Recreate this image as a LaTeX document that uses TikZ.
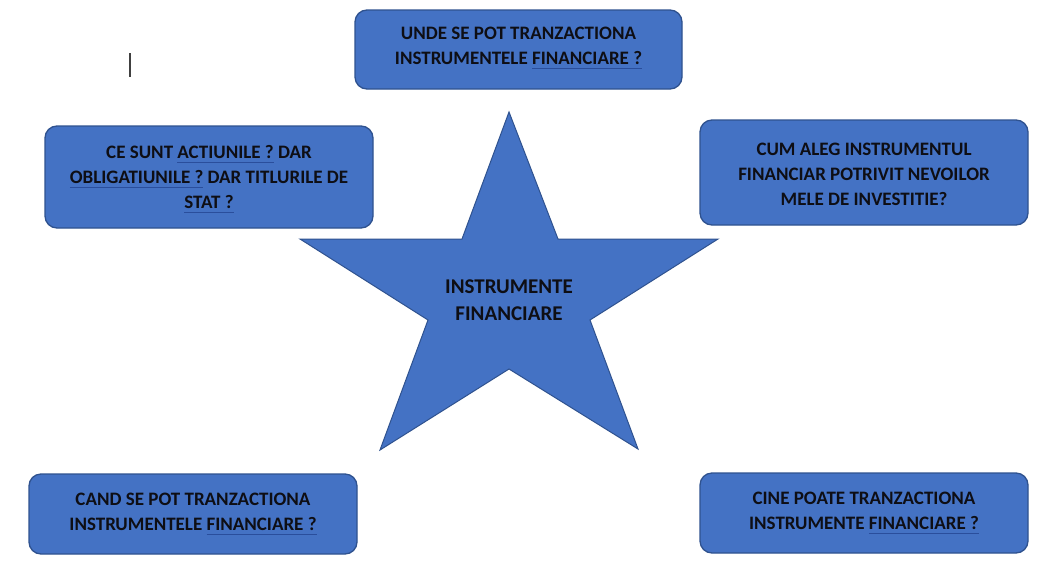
\documentclass[tikz,border=0pt]{standalone}
\usepackage{fontspec}
\setmainfont{Carlito}
\definecolor{boxfill}{HTML}{4472C4}
\definecolor{boxline}{HTML}{2F528F}
\definecolor{ulc}{HTML}{2A4E9C}
\definecolor{txt}{HTML}{0E0E14}
\newsavebox\sqbox
\newcommand\sqword[1]{\sbox\sqbox{#1}\rlap{\textcolor{ulc}{\rule[-4pt]{\wd\sqbox}{0.9pt}}}\usebox\sqbox}
\tikzset{
  qbox/.style={draw=boxline, line width=1.3pt, fill=boxfill, rounded corners=12pt},
  qtext/.style={align=center, font=\fontsize{19}{25}\selectfont\bfseries, text=txt},
}
\begin{document}
\begin{tikzpicture}[x=1pt,y=-1pt]
\useasboundingbox (0,0) rectangle (1054,573);
\fill[white] (0,0) rectangle (1054,573);
% cursor
\draw[line width=1.2pt, black!75] (130,53) -- (130,77);
% star
\draw[boxline, line width=1pt, fill=boxfill]
  (509,112) -- (558,239) -- (718,239) -- (590,320) -- (638,449)
  -- (509,369) -- (380,450) -- (428,320) -- (300,239) -- (462,239) -- cycle;
\node[qtext, font=\fontsize{21}{27}\selectfont\bfseries] (star) at (509,300) {INSTRUMENTE\\FINANCIARE};
% boxes
\draw[qbox] (355,10) rectangle (682,89);
\node[qtext] (top) at (518.5,48) {UNDE SE POT TRANZACTIONA\\INSTRUMENTELE \sqword{FINANCIARE ?}};
\draw[qbox] (45,126) rectangle (373,228);
\node[qtext] (tl) at (209,179) {CE SUNT \sqword{ACTIUNILE ?} DAR\\\sqword{OBLIGATIUNILE ?} DAR TITLURILE DE\\\sqword{STAT ?}};
\draw[qbox] (700,120) rectangle (1028,225);
\node[qtext] (tr) at (864,174) {CUM ALEG INSTRUMENTUL\\FINANCIAR POTRIVIT NEVOILOR\\MELE DE INVESTITIE?};
\draw[qbox] (29,474) rectangle (357,554);
\node[qtext] (bl) at (193,514) {CAND SE POT TRANZACTIONA\\INSTRUMENTELE \sqword{FINANCIARE ?}};
\draw[qbox] (700,473) rectangle (1028,553);
\node[qtext] (br) at (864,513) {CINE POATE TRANZACTIONA\\INSTRUMENTE \sqword{FINANCIARE ?}};
\end{tikzpicture}
\end{document}
